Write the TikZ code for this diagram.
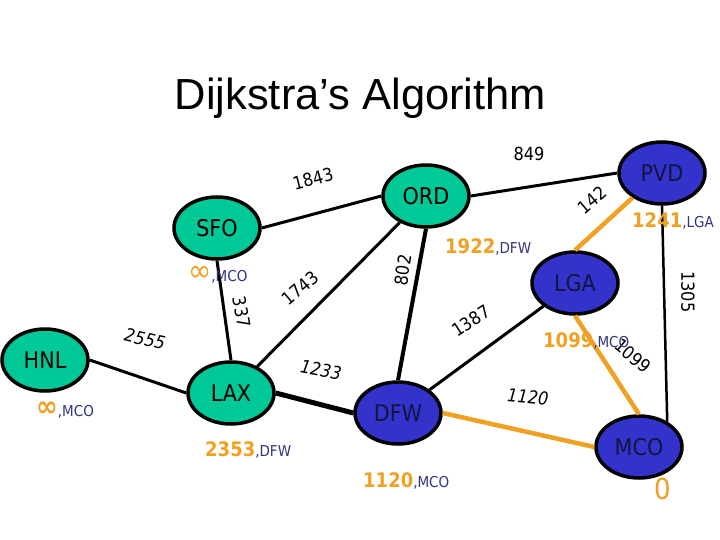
\documentclass[tikz,border=0pt]{standalone}
\usepackage{fontspec}
\setmainfont{Liberation Sans}
\newfontfamily\tah[FakeStretch=0.9]{DejaVu Sans}
\usetikzlibrary{shapes.geometric}
\definecolor{ngreen}{HTML}{00C896}
\definecolor{nblue}{HTML}{3333CC}
\definecolor{orng}{HTML}{F0A023}
\definecolor{navy}{HTML}{333380}
\definecolor{ink}{HTML}{141440}
\newcommand\dval[1]{{\fontsize{20}{20}\selectfont\bfseries\color{orng}#1}}
\newcommand\dvia[1]{{\fontsize{15}{15}\selectfont\color{navy},#1}}
\begin{document}
\begin{tikzpicture}[x=1pt,y=-1pt,
  city/.style={ellipse, draw=black, line width=3.5pt, minimum width=86pt, minimum height=62pt, inner sep=0pt, font=\tah\fontsize{23}{23}\selectfont},
  gcity/.style={city, fill=ngreen, text=black},
  bcity/.style={city, fill=nblue, text=ink},
  road/.style={draw=black, line width=3pt},
  best/.style={draw=orng, line width=4.5pt},
  wt/.style={font=\tah\fontsize{18}{18}\selectfont, inner sep=0pt, text=black},
  wti/.style={font=\tah\itshape\fontsize{18}{18}\selectfont, inner sep=0pt, text=black},
  dist/.style={anchor=base west, inner sep=0pt, font=\tah},
]
\useasboundingbox (0,0) rectangle (720,540);
\fill[white] (0,0) rectangle (720,540);

\node[anchor=base, font=\fontsize{43.5}{43.5}\selectfont] (title) at (360.5,110) {Dijkstra’s Algorithm};

% cities
\node[gcity] (SFO) at (217,228) {SFO};
\node[gcity] (ORD) at (426,196) {ORD};
\node[bcity] (PVD) at (662,173) {PVD};
\node[bcity] (LGA) at (575,283) {LGA};
\node[gcity] (HNL) at (45,360) {HNL};
\node[gcity] (LAX) at (231,393) {LAX};
\node[bcity] (DFW) at (398,413) {DFW};
\node[bcity] (MCO) at (639,447) {MCO};

% roads
\draw[road] (SFO.east) -- (ORD.west);
\draw[road] (ORD.east) -- (PVD.west);
\draw[road] (ORD) -- (LAX);
\draw[road, line width=4pt] (ORD.south) -- (DFW.north);
\draw[road] (SFO.south) -- (LAX.north);
\draw[road] (HNL.east) -- (LAX.west);
\draw[road, line width=5pt] (LAX.east) -- (DFW.west);
\draw[road] (LGA) -- (DFW);
\draw[road, line width=2.5pt] (PVD.south) -- (MCO.42);
\draw[best] (PVD.220) -- (LGA.north);
\draw[best] (LGA.south) -- (MCO.north);
\draw[best] (DFW.east) -- (MCO.west);

% weights
\node[wt, rotate=15] (w1843) at (313,179) {1843};
\node[wt] (w849) at (529,154) {849};
\node[wt, rotate=40] (w142) at (592,200) {142};
\node[wt, rotate=-90] (w1305) at (688,292) {1305};
\node[wt, rotate=40] (w1743) at (300,288) {1743};
\node[wt, rotate=82] (w802) at (403,270) {802};
\node[wt, rotate=-80] (w337) at (242,312) {337};
\node[wti, rotate=-13] (w2555) at (145,339) {2555};
\node[wti, rotate=-10] (w1233) at (321,370) {1233};
\node[wt, rotate=33] (w1387) at (471,321) {1387};
\node[wt, rotate=-40] (w1099) at (633,356) {1099};
\node[wti, rotate=-5] (w1120) at (528,397) {1120};

% distances
\node[dist] (dSFO) at (188,281) {{\fontsize{31}{31}\selectfont\color{orng}∞}\dvia{MCO}};
\node[dist] (dHNL) at (36,416) {{\fontsize{29}{29}\selectfont\bfseries\color{orng}∞}\dvia{MCO}};
\node[dist] (dLAX) at (205,456) {\dval{2353}\dvia{DFW}};
\node[dist] (dORD) at (445,253) {\dval{1922}\dvia{DFW}};
\node[dist] (dPVD) at (632,227) {\dval{1241}\dvia{LGA}};
\node[dist] (dLGA) at (543,347) {\dval{1099}\dvia{MCO}};
\node[dist] (dDFW) at (363,487) {\dval{1120}\dvia{MCO}};
\node[font=\tah\fontsize{29}{29}\selectfont, text=orng, inner sep=0pt] (dMCO) at (663,489) {0};
\end{tikzpicture}
\end{document}
